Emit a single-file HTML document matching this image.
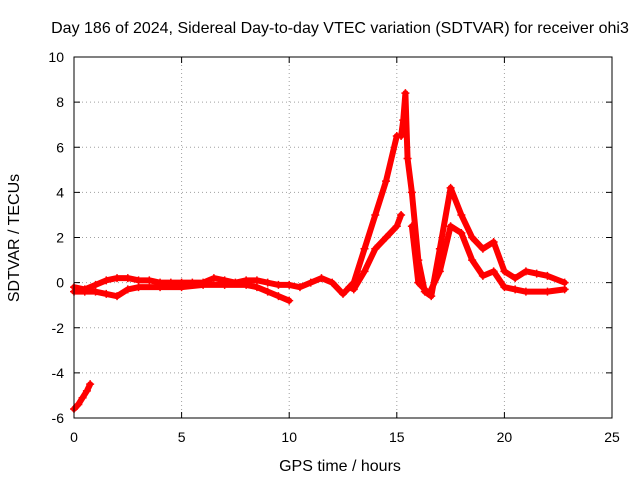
<!DOCTYPE html>
<html><head><meta charset="utf-8"><style>
body{margin:0;background:#fff;}
svg text{font-family:"Liberation Sans",sans-serif;font-size:14px;fill:#000;}
svg text.big{font-size:16px;}
</style></head><body>
<svg id="chart" width="640" height="480" xmlns="http://www.w3.org/2000/svg">
<rect width="640" height="480" fill="#fff"/>
<text class="big" x="340" y="33" text-anchor="middle">Day 186 of 2024, Sidereal Day-to-day VTEC variation (SDTVAR) for receiver ohi3</text>
<text class="big" x="340" y="471" text-anchor="middle">GPS time / hours</text>
<text class="big" transform="translate(19,238) rotate(-90)" text-anchor="middle">SDTVAR / TECUs</text>
<g id="grid"></g><g id="marks"></g><g id="axes"></g>
</svg>
<script>
const xTicks=[0,5,10,15,20,25];
const yTicks=[-6,-4,-2,0,2,4,6,8,10];
const traceMainX=[0,0.5,1,1.5,2,2.5,3,3.5,4,4.5,5,5.5,6,6.5,7,7.5,8,8.5,9,9.5,10,10.5,11,11.5,12,12.5,13,13.5,14,14.5,15];
const traceMainY=[-0.2,-0.3,-0.1,0.1,0.2,0.2,0.1,0.1,0,0,0,0,0,0.2,0.1,0,0.1,0.1,0,-0.1,-0.1,-0.2,0,0.2,0,-0.5,0,1.5,3,4.5,6.5];
const traceLowX=[0,0.5,1,1.5,2,2.5,3,4,5,6,7,8,8.5,9,9.5,10];
const traceLowY=[-0.4,-0.4,-0.4,-0.5,-0.6,-0.3,-0.2,-0.2,-0.2,-0.1,-0.1,-0.1,-0.2,-0.4,-0.6,-0.8];
const traceNegX=[0,0.2,0.4,0.6,0.75];
const traceNegY=[-5.6,-5.4,-5.1,-4.8,-4.5];
const traceRiseX=[12.8,13,13.5,14,14.5,15,15.2];
const traceRiseY=[-0.2,-0.3,0.5,1.5,2,2.5,3];
const tracePostX=[15.2,15.3,15.4,15.5,15.7,16,16.3,16.6,17,17.5,18,18.5,19,19.5,20,20.5,21,21.5,22,22.8];
const tracePostY=[6.5,7.2,8.4,5.5,4,1,-0.4,-0.6,1.5,4.2,3,2,1.5,1.8,0.5,0.2,0.5,0.4,0.3,0];
const tracePost2X=[15.7,16,16.5,17,17.5,18,18.5,19,19.5,20,20.5,21,22,22.8];
const tracePost2Y=[2.5,0,-0.5,0.5,2.5,2.2,1,0.3,0.5,-0.2,-0.3,-0.4,-0.4,-0.3];
const X0=74,X1=612,Y0=418,Y1=57;
const sx=v=>X0+(v-0)/(25-0)*(X1-X0);
const sy=v=>Y0-(v+6)/(16)*(Y0-Y1);
const NS="http://www.w3.org/2000/svg";
const grid=document.getElementById('grid'),marks=document.getElementById('marks'),axes=document.getElementById('axes');
function mk(t,a,p){const e=document.createElementNS(NS,t);for(const k in a)e.setAttribute(k,a[k]);p.appendChild(e);return e;}
xTicks.forEach(t=>{const x=sx(t);
 if(t>0&&t<25){const g=mk('line',{x1:x,x2:x,y1:Y1,y2:Y0,stroke:'#a0a0a0','stroke-dasharray':'1,3'},grid);
 
 }
 const l=mk('text',{x:x,y:Y0+24,'text-anchor':'middle'},axes);l.textContent=t;
 
 
 mk('line',{x1:x,x2:x,y1:Y0,y2:Y0-6,stroke:'#000'},axes);mk('line',{x1:x,x2:x,y1:Y1,y2:Y1+6,stroke:'#000'},axes);});
yTicks.forEach(t=>{const y=sy(t);
 if(t>-6&&t<10){const g=mk('line',{x1:X0,x2:X1,y1:y,y2:y,stroke:'#a0a0a0','stroke-dasharray':'1,3'},grid);
 
 }
 const l=mk('text',{x:X0-10,y:y+5,'text-anchor':'end'},axes);l.textContent=t;
 
 
 mk('line',{x1:X0,x2:X0+6,y1:y,y2:y,stroke:'#000'},axes);mk('line',{x1:X1,x2:X1-6,y1:y,y2:y,stroke:'#000'},axes);});
const fr=mk('rect',{x:X0,y:Y1,width:X1-X0,height:Y0-Y1,fill:'none',stroke:'#000'},axes);


function trace(xs,ys,name){
 const g=mk('g',{},marks);
 
 
 mk('polyline',{points:xs.map((x,i)=>sx(x)+','+sy(ys[i])).join(' '),fill:'none',stroke:'#f00','stroke-width':6,'stroke-linejoin':'round','stroke-linecap':'round'},g);
 xs.forEach((x,i)=>{const cx=sx(x),cy=sy(ys[i]);
  mk('path',{d:`M${cx-4},${cy}H${cx+4}M${cx},${cy-4}V${cy+4}`,stroke:'#f00','stroke-width':1.5},g);});
}
trace(traceMainX,traceMainY,'sdtvar-trace-main');
trace(traceLowX,traceLowY,'sdtvar-trace-lower');
trace(traceNegX,traceNegY,'sdtvar-trace-negative');
trace(traceRiseX,traceRiseY,'sdtvar-trace-rise');
trace(tracePostX,tracePostY,'sdtvar-trace-post');
trace(tracePost2X,tracePost2Y,'sdtvar-trace-post-lower');
</script>
</body></html>
